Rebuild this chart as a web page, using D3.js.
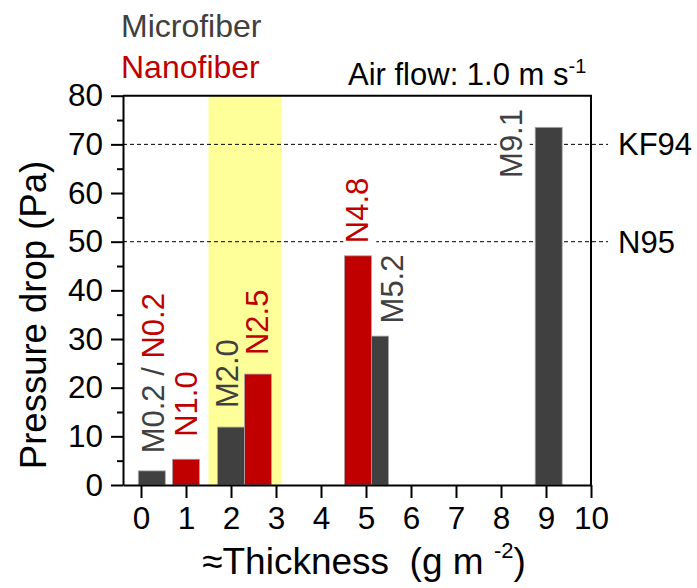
<!DOCTYPE html>
<html>
<head>
<meta charset="utf-8">
<script src="https://cdn.jsdelivr.net/npm/d3@7"></script>
<style>
  body { margin: 0; background: #fff; }
  svg { font-family: "Liberation Sans", Arial, sans-serif; }
</style>
</head>
<body>
<div id="chart"></div>
<script>
// bars (x = thickness, y = pressure drop in Pa)
const barName = ["M0.2", "N1.0", "M2.0", "N2.5", "M5.2", "N4.8", "M9.1"];
const barPos = [0.24, 1.0, 2.0, 2.6, 5.2, 4.82, 9.06];
const barValue = [2.9, 5.3, 11.9, 22.8, 30.6, 47.1, 73.5];
const barType = ["M", "N", "M", "N", "M", "N", "M"];

// bar labels: text pieces, anchor in data units (start of rotated text)
const labelParts = [
  [["M0.2 / ", "M"], ["N0.2", "N"]],
  [["N1.0", "N"]],
  [["M2.0", "M"]],
  [["N2.5", "N"]],
  [["N4.8", "N"]],
  [["M5.2", "M"]],
  [["M9.1", "M"]]
];
const labelX = [0.50, 1.24, 2.16, 2.83, 5.05, 5.83, 8.46];
const labelY = [6.5, 9.9, 15.8, 26.7, 49.7, 33.2, 63.1];

// reference lines
const refValue = [70, 50];
const refName = ["KF94", "N95"];

// highlighted thickness range
const band = [1.5, 3.13];

const xTicks = d3.range(0, 11);
const yTicks = d3.range(0, 81, 10);
const yMinor = d3.range(5, 80, 10);

const color = { M: "#404040", N: "#c00000" };

const width = 697, height = 588,
    margin = ({ top: 95.7, right: 106, bottom: 103, left: 123 });

const svg = d3.select("#chart")
    .append("svg")
    .attr("width", width)
    .attr("height", height);

let x = d3.scaleLinear()
    .domain([-0.4, 10])
    .range([margin.left, width - margin.right]);

let y = d3.scaleLinear()
    .domain([0, 80])
    .range([height - margin.bottom, margin.top]);

const x0 = x.range()[0], x1 = x.range()[1];
const yb = y.range()[0], yt = y.range()[1];

// yellow band
svg.append("rect")
    .attr("x", x(band[0]))
    .attr("y", yt)
    .attr("width", x(band[1]) - x(band[0]))
    .attr("height", yb - yt)
    .attr("fill", "#ffff99");

// dashed reference lines + names
refValue.forEach((v, i) => {
    svg.append("line")
        .attr("x1", x0).attr("x2", x1 + 17)
        .attr("y1", y(v)).attr("y2", y(v))
        .attr("stroke", "#000")
        .attr("stroke-width", 1)
        .attr("stroke-dasharray", "4,3");
    svg.append("text")
        .attr("x", x1 + 27)
        .attr("y", y(v) + 11)
        .attr("font-size", 31)
        .attr("fill", "#000")
        .text(refName[i]);
});

// bars
const barW = x(0.6) - x(0);
barName.forEach((n, i) => {
    svg.append("rect")
        .attr("x", x(barPos[i]) - barW / 2)
        .attr("y", y(barValue[i]))
        .attr("width", barW)
        .attr("height", y(0) - y(barValue[i]))
        .attr("fill", color[barType[i]])
        .attr("stroke", "#a8a8a8")
        .attr("stroke-width", 0.8);
});

// rotated bar labels
labelParts.forEach((parts, i) => {
    let g = svg.append("g")
        .attr("transform", `translate(${x(labelX[i])},${y(labelY[i])}) rotate(-90)`);
    let t = g.append("text")
        .attr("font-size", 31);
    parts.forEach(p => {
        t.append("tspan").attr("fill", color[p[1]]).text(p[0]);
    });
    // white box where the label sits outside the band
    if (labelX[i] < band[0] || labelX[i] > band[1]) {
        let bb = t.node().getBBox();
        g.insert("rect", "text")
            .attr("x", bb.x - 3)
            .attr("y", bb.y + 3)
            .attr("width", bb.width + 6)
            .attr("height", bb.height - 2)
            .attr("fill", "#fff");
    }
});

// axes
const yAxis = svg.append("g")
    .attr("transform", `translate(${x0},0)`)
    .call(d3.axisLeft(y)
        .tickValues(yTicks)
        .tickSize(12)
        .tickSizeOuter(0)
        .tickPadding(8));

const yAxisMinor = svg.append("g")
    .attr("transform", `translate(${x0},0)`)
    .call(d3.axisLeft(y)
        .tickValues(yMinor)
        .tickSize(6)
        .tickFormat(""));
yAxisMinor.select(".domain").remove();

const xAxis = svg.append("g")
    .attr("transform", `translate(0,${yb})`)
    .call(d3.axisBottom(x)
        .tickValues(xTicks)
        .tickSize(13)
        .tickSizeOuter(0)
        .tickPadding(9));

svg.selectAll(".tick text")
    .attr("font-size", 31.5)
    .attr("font-family", "Liberation Sans, Arial, sans-serif")
    .attr("fill", "#000");
svg.selectAll(".domain, .tick line")
    .attr("stroke", "#000")
    .attr("stroke-width", 2);

// top and right frame
svg.append("path")
    .attr("d", `M${x0},${yt}H${x1}V${yb}`)
    .attr("fill", "none")
    .attr("stroke", "#000")
    .attr("stroke-width", 2);

// axis titles
svg.append("text")
    .attr("transform", `translate(46,315) rotate(-90)`)
    .attr("text-anchor", "middle")
    .attr("font-size", 36.5)
    .attr("fill", "#000")
    .text("Pressure drop (Pa)");

let xt = svg.append("text")
    .attr("x", 364)
    .attr("y", 574)
    .attr("text-anchor", "middle")
    .attr("font-size", 37)
    .attr("fill", "#000")
    .attr("xml:space", "preserve");
xt.append("tspan").text("\u2248Thickness  (g m ");
xt.append("tspan").attr("dy", -16).attr("font-size", 22).text("-2");
xt.append("tspan").attr("dy", 16).text(")");

// legend
svg.append("text")
    .attr("x", 121).attr("y", 37)
    .attr("font-size", 32)
    .attr("fill", color.M)
    .text("Microfiber");
svg.append("text")
    .attr("x", 121).attr("y", 78)
    .attr("font-size", 32)
    .attr("fill", color.N)
    .text("Nanofiber");

// air flow note
let af = svg.append("text")
    .attr("x", 348).attr("y", 85)
    .attr("font-size", 31)
    .attr("fill", "#000");
af.append("tspan").text("Air flow: 1.0 m s");
af.append("tspan").attr("dy", -12).attr("font-size", 20).text("-1");
</script>
</body>
</html>
